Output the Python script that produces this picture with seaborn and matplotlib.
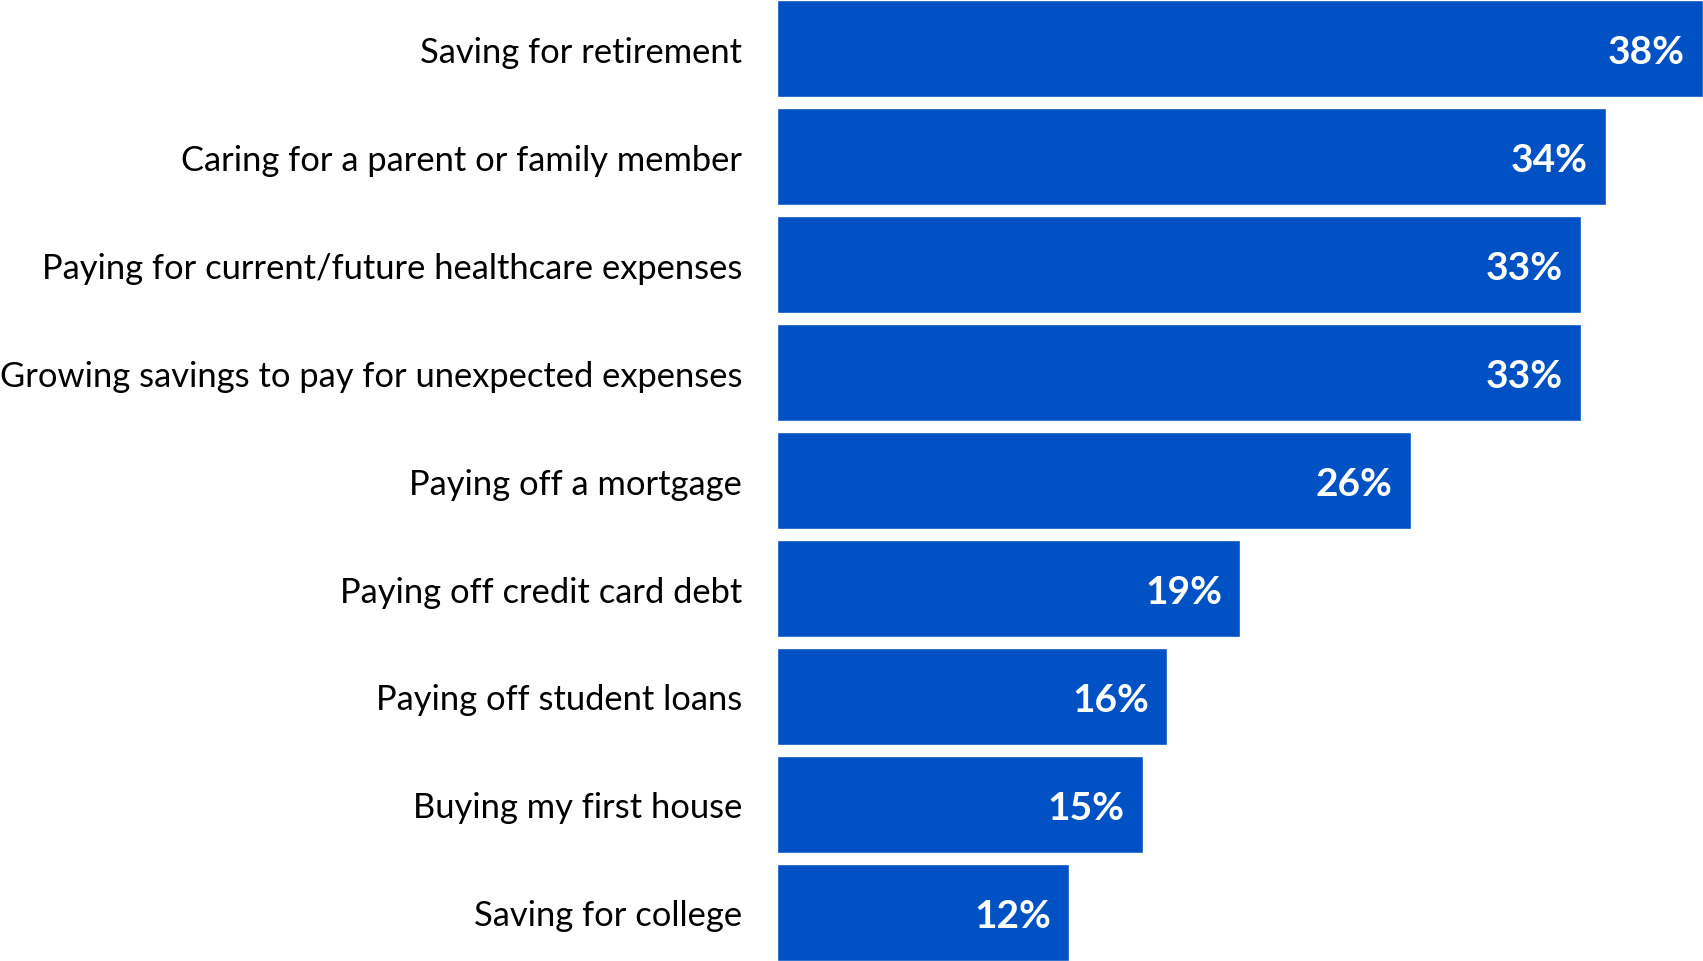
import matplotlib
matplotlib.use("Agg")
import matplotlib.pyplot as plt
import seaborn as sns
import pandas as pd

categories = [
    "Saving for retirement",
    "Caring for a parent or family member",
    "Paying for current/future healthcare expenses",
    "Growing savings to pay for unexpected expenses",
    "Paying off a mortgage",
    "Paying off credit card debt",
    "Paying off student loans",
    "Buying my first house",
    "Saving for college",
]
values = [38, 34, 33, 33, 26, 19, 16, 15, 12]

df = pd.DataFrame({"category": categories, "value": values})

sns.set_theme(style="white")
plt.rcParams["font.family"] = ["Lato", "DejaVu Sans"]

W, H = 1703, 962
fig = plt.figure(figsize=(W / 100, H / 100), dpi=100)
ax = fig.add_axes([777 / W, 0, 1 - 777 / W, 1])

sns.barplot(data=df, x="value", y="category", orient="h", color="#0052C4",
            saturation=1, width=0.9, ax=ax)

ax.set_xlim(0, 38)
ax.set_ylim(8.45, -0.46)
ax.set_xlabel("")
ax.set_ylabel("")
ax.set_xticks([])
for s in ax.spines.values():
    s.set_visible(False)
ax.tick_params(axis="y", length=0, pad=25, labelsize=24.8, labelcolor="black")

for i, v in enumerate(values):
    ax.annotate(f"{v}%", xy=(v, i), xytext=(-13, -2), textcoords="offset points",
                ha="right", va="center", color="white", fontsize=28,
                fontweight="bold")

fig.savefig("out.png", dpi=100)
